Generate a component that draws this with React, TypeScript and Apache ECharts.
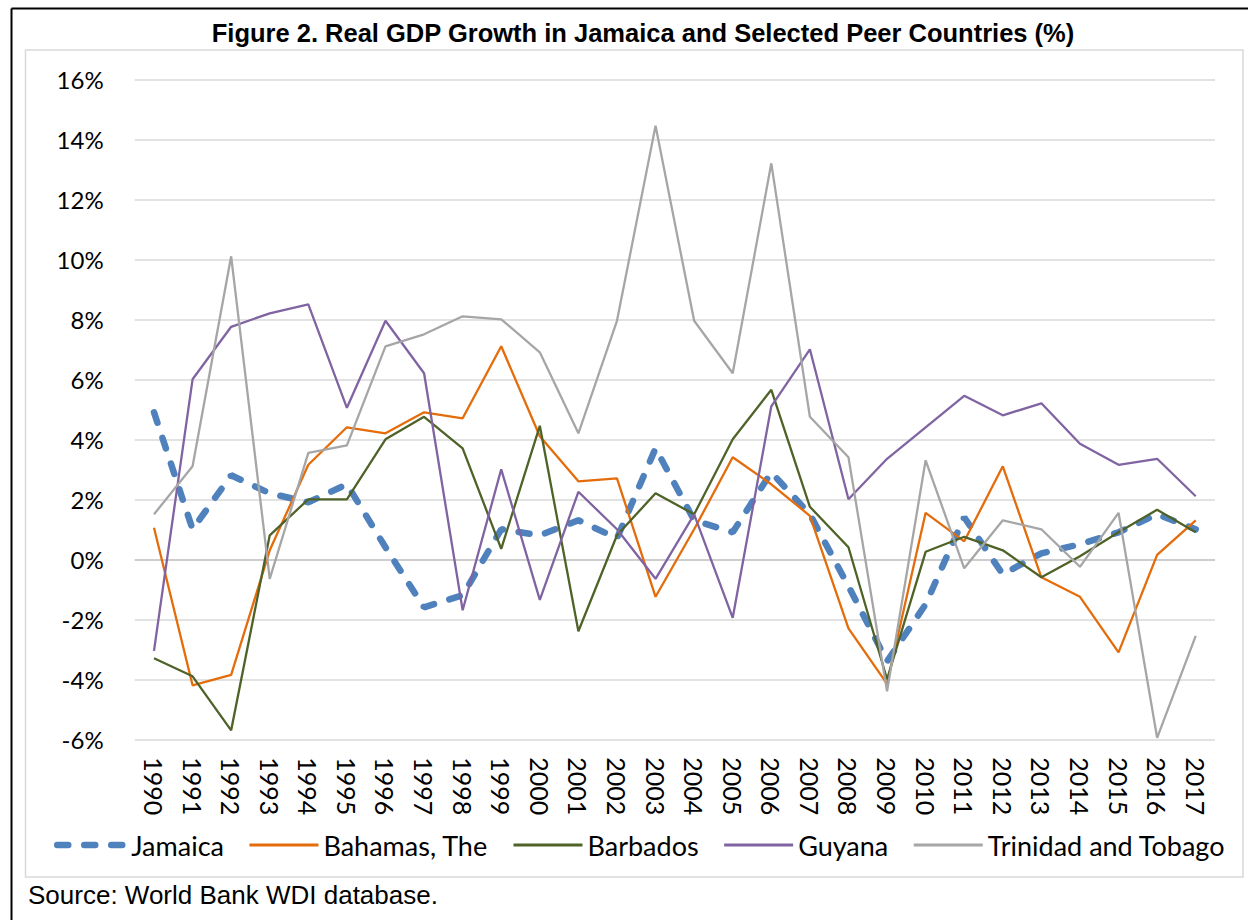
import React, { useEffect, useRef } from "react";
import * as echarts from "echarts";

// Calendar years on the category axis
const years = [
  "1990", "1991", "1992", "1993", "1994", "1995", "1996", "1997", "1998", "1999",
  "2000", "2001", "2002", "2003", "2004", "2005", "2006", "2007", "2008", "2009",
  "2010", "2011", "2012", "2013", "2014", "2015", "2016", "2017",
];

// Real GDP growth, percent per year
const jamaica = [
  4.9, 1.0, 2.8, 2.2, 1.9, 2.5, 0.4, -1.6, -1.2, 1.0,
  0.8, 1.3, 0.7, 3.7, 1.3, 0.9, 2.9, 1.5, -0.9, -3.4,
  -1.5, 1.4, -0.5, 0.2, 0.5, 0.9, 1.5, 1.0,
];
const bahamas = [
  1.05, -4.2, -3.85, 0.3, 3.15, 4.4, 4.2, 4.9, 4.7, 7.1,
  4.1, 2.6, 2.7, -1.25, 1.0, 3.4, 2.5, 1.45, -2.3, -4.15,
  1.55, 0.6, 3.1, -0.6, -1.25, -3.1, 0.15, 1.3,
];
const barbados = [
  -3.3, -3.9, -5.7, 0.8, 2.0, 2.0, 4.0, 4.75, 3.7, 0.35,
  4.45, -2.4, 0.8, 2.2, 1.5, 4.0, 5.65, 1.75, 0.4, -4.0,
  0.25, 0.75, 0.3, -0.6, 0.1, 0.9, 1.65, 0.9,
];
const guyana = [
  -3.05, 6.0, 7.75, 8.2, 8.5, 5.05, 7.95, 6.2, -1.7, 3.0,
  -1.35, 2.25, 1.0, -0.65, 1.5, -1.95, 5.1, 7.0, 2.0, 3.35,
  4.4, 5.45, 4.8, 5.2, 3.85, 3.15, 3.35, 2.1,
];
const trinidad = [
  1.5, 3.1, 10.1, -0.65, 3.55, 3.8, 7.1, 7.5, 8.1, 8.0,
  6.9, 4.2, 7.95, 14.45, 7.95, 6.2, 13.2, 4.75, 3.4, -4.4,
  3.3, -0.3, 1.3, 1.0, -0.25, 1.55, -5.95, -2.55,
];

const seriesNames = ["Jamaica", "Bahamas, The", "Barbados", "Guyana", "Trinidad and Tobago"];
const seriesColors = ["#4F81BD", "#E46C0A", "#4F6228", "#8064A2", "#A6A6A6"];

const TITLE = "Figure 2. Real GDP Growth in Jamaica and Selected Peer Countries (%)";
const SOURCE = "Source: World Bank WDI database.";

const TICK_FONT = "Lato";
const JAMAICA_DASH = [11, 16];

export default function App() {
  const ref = useRef<HTMLDivElement>(null);

  useEffect(() => {
    if (!ref.current) return;
    const chart = echarts.init(ref.current, null, { renderer: "svg" });

    const values = [jamaica, bahamas, barbados, guyana, trinidad];
    const series = values.map((data, i) => {
      const isJamaica = i === 0;
      const s: any = {
        name: seriesNames[i],
        type: "line",
        data,
        symbol: "none",
        smooth: false,
        color: seriesColors[i],
        lineStyle: isJamaica
          ? { color: seriesColors[i], width: 6.5, type: JAMAICA_DASH, cap: "round" }
          : { color: seriesColors[i], width: 2.3 },
        z: 3 + i,
      };
      if (isJamaica) {
        // darker zero line of the category axis
        s.markLine = {
          silent: true,
          symbol: "none",
          label: { show: false },
          lineStyle: { color: "#CDCDCD", width: 2, type: "solid" },
          data: [{ yAxis: 0 }],
          z: 1,
        };
      }
      return s;
    });

    // legend entries: plain line samples, no point marker
    const legendData = seriesNames.map((name, i) => ({
      name,
      itemStyle: { color: "rgba(0,0,0,0)", borderWidth: 0, opacity: 0 },
      lineStyle:
        i === 0
          ? { color: seriesColors[i], width: 6.5, type: JAMAICA_DASH, cap: "round", opacity: 1 }
          : { color: seriesColors[i], width: 3, type: "solid", opacity: 1 },
    }));

    chart.setOption({
      animation: false,
      backgroundColor: "#ffffff",
      grid: { left: 134.7, right: 33, top: 79.3, bottom: 180.7, containLabel: false },
      xAxis: {
        type: "category",
        data: years,
        boundaryGap: true,
        axisLine: { show: false },
        axisTick: { show: false },
        axisLabel: {
          rotate: -90,
          margin: 18,
          interval: 0,
          color: "#000000",
          fontFamily: TICK_FONT,
          fontSize: 25,
        },
      },
      yAxis: {
        type: "value",
        min: -6,
        max: 16,
        interval: 2,
        axisLine: { show: false },
        axisTick: { show: false },
        axisLabel: {
          formatter: "{value}%",
          margin: 31,
          color: "#000000",
          fontFamily: TICK_FONT,
          fontSize: 24,
        },
        splitLine: { lineStyle: { color: "#D9D9D9", width: 1.5 } },
      },
      legend: {
        left: 49,
        top: 825,
        itemWidth: 69,
        itemHeight: 14,
        itemGap: 24,
        data: legendData,
        textStyle: {
          color: "#000000",
          fontFamily: TICK_FONT,
          fontSize: 27,
          lineHeight: 30,
        },
      },
      series,
      graphic: [
        {
          type: "rect",
          silent: true,
          shape: { x: 25.5, y: 50, width: 1217.5, height: 827 },
          style: { fill: "none", stroke: "#D9D9D9", lineWidth: 1.5 },
          z: -1,
        },
        {
          type: "line",
          silent: true,
          shape: { x1: 11.5, y1: 8.5, x2: 1248, y2: 8.5 },
          style: { stroke: "#000000", lineWidth: 2 },
        },
        {
          type: "line",
          silent: true,
          shape: { x1: 11.5, y1: 8.5, x2: 11.5, y2: 920 },
          style: { stroke: "#000000", lineWidth: 2 },
        },
        {
          type: "text",
          silent: true,
          x: 643,
          y: 33,
          style: {
            text: TITLE,
            fill: "#000000",
            font: "bold 25.5px 'Liberation Sans', Arial, sans-serif",
            textAlign: "center",
            textVerticalAlign: "middle",
          },
        },
        {
          type: "text",
          silent: true,
          x: 28,
          y: 895,
          style: {
            text: SOURCE,
            fill: "#000000",
            font: "26px 'Liberation Sans', Arial, sans-serif",
            textAlign: "left",
            textVerticalAlign: "middle",
          },
        },
      ],
    });

    return () => chart.dispose();
  }, []);

  return (
    <div
      ref={ref}
      style={{ position: "absolute", left: 0, top: 0, width: 1248, height: 920, background: "#ffffff" }}
    />
  );
}
